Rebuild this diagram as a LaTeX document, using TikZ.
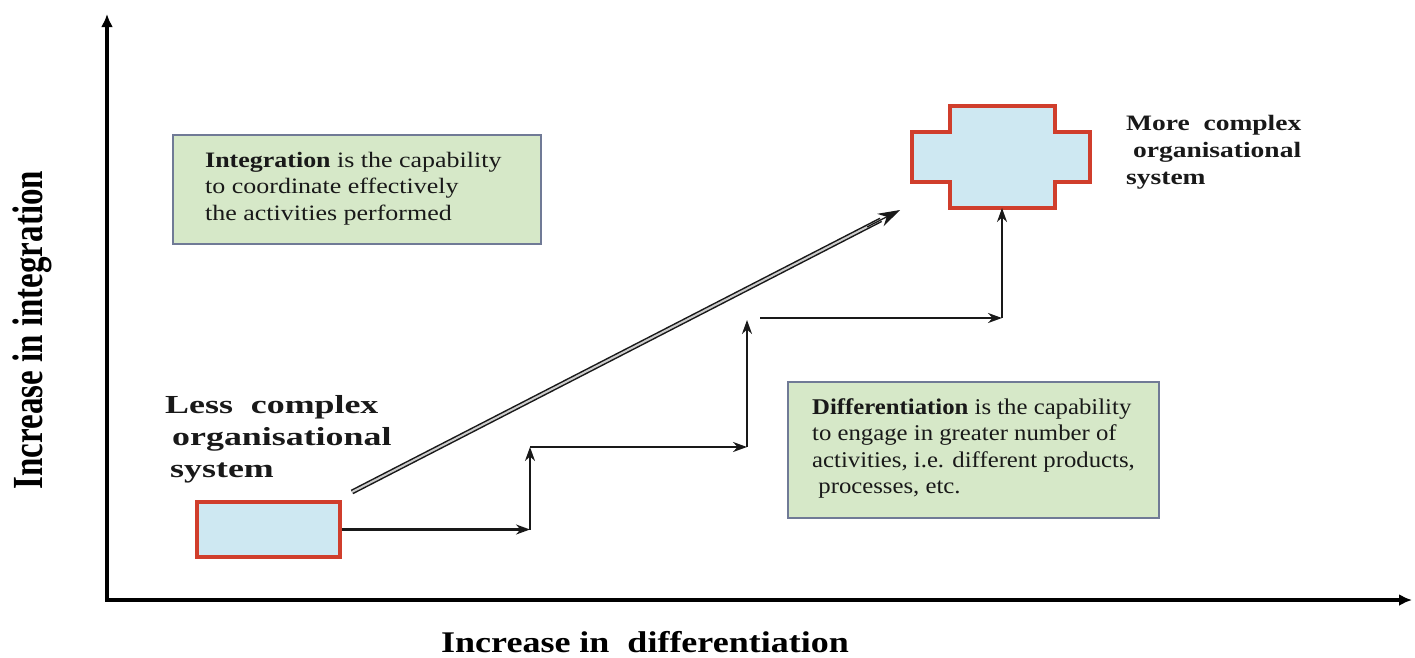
\documentclass[tikz,border=0pt]{standalone}
\usepackage{fontspec}
\setmainfont{Liberation Serif}
\newfontfamily\intfont{Liberation Serif}[FakeStretch=1.18]
\newfontfamily\diffont{Liberation Serif}[FakeStretch=1.1]
\newfontfamily\axisfont{Liberation Serif}[FakeStretch=1.2]
\newfontfamily\lessfont{Liberation Serif}[FakeStretch=1.38]
\newfontfamily\morefont{Liberation Serif}[FakeStretch=1.25]
\usetikzlibrary{arrows.meta,calc}

\definecolor{notegreen}{RGB}{214,232,200}
\definecolor{noteedge}{RGB}{112,122,150}
\definecolor{sysfill}{RGB}{206,232,242}
\definecolor{sysedge}{RGB}{208,62,44}
\definecolor{ink}{RGB}{25,25,25}

\begin{document}
\begin{tikzpicture}[x=1pt,y=-1pt,
  note/.style={draw=noteedge, line width=2pt, fill=notegreen, inner sep=0pt, anchor=north west},
  notetext/.style={anchor=north west, align=left, inner sep=0pt, text=ink},
  syslabel/.style={anchor=north west, align=left, inner sep=0pt, text=ink},
  sysbox/.style={draw=sysedge, line width=4pt, fill=sysfill},
  axis/.style={line width=4pt, -{Latex[length=13pt,width=12pt]}},
  steparrow/.style={line width=2.2pt, draw=ink, -{Stealth[length=14pt,width=10pt]}},
  growth/.style={draw=ink, double=white!80!black, double distance=2pt, line width=1.5pt},
]
\useasboundingbox (0,0) rectangle (1415,657);
\clip (0,0) rectangle (1415,657);

% axes
\coordinate (origin) at (107,600);
\coordinate (ytip) at (107,14);
\coordinate (xtip) at (1412,600);
\draw[axis] (origin) -- (ytip);
\draw[axis] ([xshift=-2pt]origin) -- (xtip);

\node[rotate=90, inner sep=0pt, font=\bfseries\fontsize{33}{36}\selectfont] (ylabel) at (32,330)
  {\scalebox{1}[1.3]{Increase in integration}};
\node[anchor=base, inner sep=0pt, font=\axisfont\bfseries\fontsize{30}{34}\selectfont] (xlabel) at (645,652)
  {Increase in\ \ differentiation};

% definition boxes
\node[note, minimum width=368pt, minimum height=109pt] (intbox) at (172,134) {};
\node[notetext, font=\intfont\fontsize{22}{26.5}\selectfont] (inttext) at (205,152)
  {\textbf{Integration} is the capability\\to coordinate effectively\\the activities performed};

\node[note, minimum width=371pt, minimum height=136pt] (difbox) at (787,381) {};
\node[notetext, font=\diffont\fontsize{22.5}{26.5}\selectfont] (diftext) at (812,398)
  {\textbf{Differentiation} is the capability\\to engage in greater number of\\activities, i.e. different products,\\\ processes, etc.};

% less complex system
\node[sysbox, minimum width=143pt, minimum height=55pt, inner sep=0pt] (less) at (268.5,529.5) {};
\node[syslabel, font=\lessfont\bfseries\fontsize{26}{32}\selectfont] (lesstext) at (165,395)
  {Less\ \ complex\\\hspace{7pt}organisational\\\hspace{5pt}system};

% more complex system
\draw[sysbox] (950,106) -- (1055,106) -- (1055,132) -- (1090,132) -- (1090,182)
  -- (1055,182) -- (1055,208) -- (950,208) -- (950,182) -- (912,182)
  -- (912,132) -- (950,132) -- cycle;
\coordinate (more) at (1002,208);
\node[syslabel, font=\morefont\bfseries\fontsize{22}{27}\selectfont] (moretext) at (1126,115)
  {More\ \ complex\\\ organisational\\system};

% stepwise path through differentiation
\coordinate (s1) at (530,529.5);
\coordinate (s2) at (530,447);
\coordinate (s3) at (747,447);
\coordinate (s4) at (747,320);
\coordinate (s5) at (760,318);
\coordinate (s6) at (1002,318);
\draw[steparrow] (less.east) -- (s1);
\draw[steparrow] (s1) -- (s2);
\draw[steparrow] (s2) -- (s3);
\draw[steparrow] (s3) -- (s4);
\draw[steparrow] (s5) -- (s6);
\draw[steparrow] (s6) -- (more);

% direct path through integration
\coordinate (gstart) at (352,492);
\coordinate (gend) at (900,210);
\draw[growth] (gstart) -- ($(gstart)!0.965!(gend)$);
\draw[ink, line width=1.2pt, -{Stealth[length=22pt,width=14pt]}] ($(gstart)!0.94!(gend)$) -- (gend);
\end{tikzpicture}
\end{document}
